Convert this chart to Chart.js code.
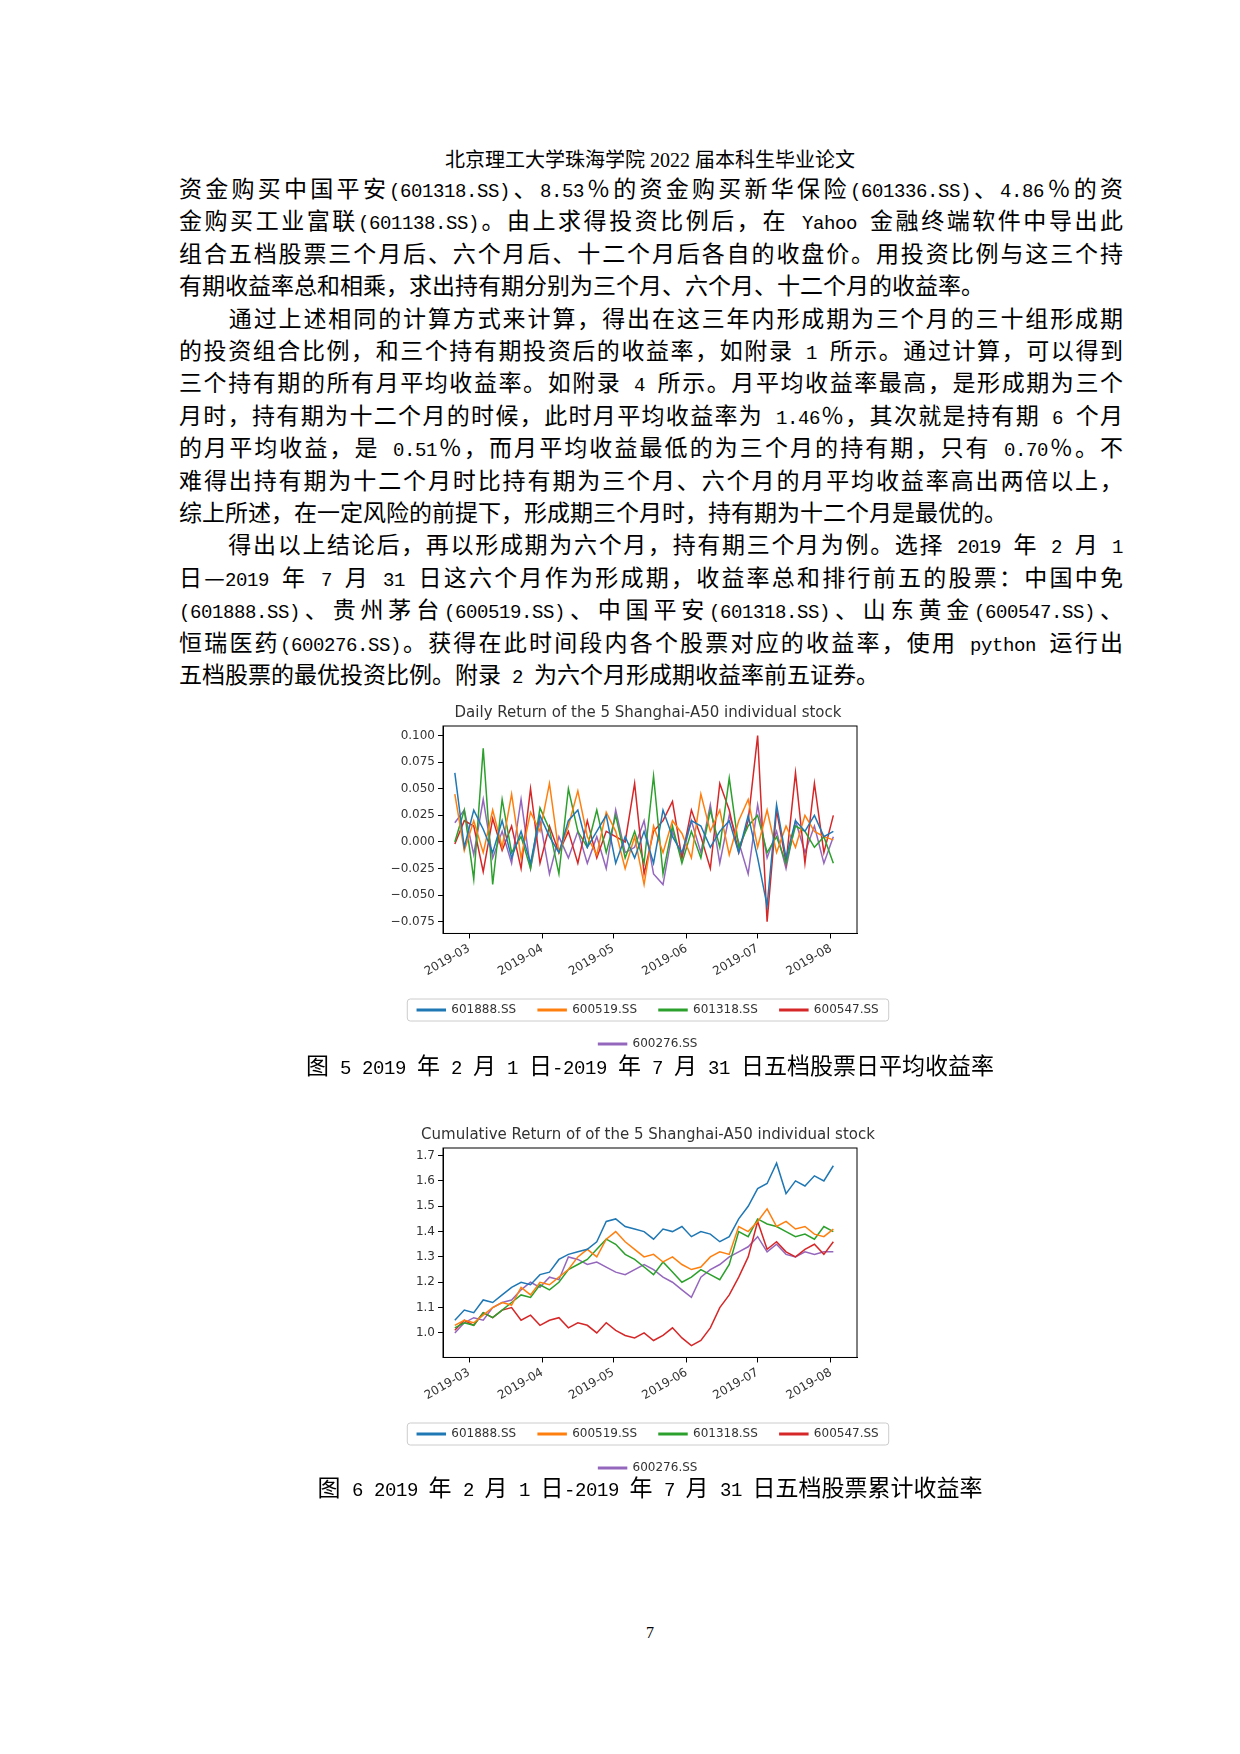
<!DOCTYPE html>
<html><head><meta charset="utf-8">
<script src="https://cdn.jsdelivr.net/npm/chart.js@4.4.0/dist/chart.umd.min.js"></script>
<style>
@font-face{font-family:"LatinMono";src:local("Liberation Mono"),local("LiberationMono");size-adjust:84%;unicode-range:U+0000-00FF}
body{margin:0;width:1240px;height:1754px;background:#fff;position:relative;font-family:"LatinMono","Noto Sans CJK SC",sans-serif;color:#000}
.ln{position:absolute;left:179px;width:944px;height:32px;line-height:32px;font-size:23px;white-space:nowrap;text-align:justify;text-align-last:justify}
.last{text-align-last:left}
.c{position:absolute;left:0;width:1300px;text-align:center;white-space:nowrap}
canvas{position:absolute}
</style></head><body>
<div class="c" style="top:147px;font-size:20px;line-height:26px;font-family:'Liberation Serif','Noto Sans CJK SC'">北京理工大学珠海学院 2022 届本科生毕业论文</div>
<div id="txt"></div>
<canvas id="c1" style="left:335px;top:702px;width:626px;height:362px"></canvas>
<div class="c" style="top:1054px;font-size:23px;line-height:30px">图 5 2019 年 2 月 1 日-2019 年 7 月 31 日五档股票日平均收益率</div>
<canvas id="c2" style="left:335px;top:1124px;width:626px;height:364px"></canvas>
<div class="c" style="top:1476px;font-size:23px;line-height:30px">图 6 2019 年 2 月 1 日-2019 年 7 月 31 日五档股票累计收益率</div>
<div class="c" style="top:1622px;font-size:16px;line-height:22px;font-family:'Liberation Serif'">7</div>
<script>
const lines=[
["资金购买中国平安(601318.SS)、8.53％的资金购买新华保险(601336.SS)、4.86％的资",0],
["金购买工业富联(601138.SS)。由上求得投资比例后，在 Yahoo 金融终端软件中导出此",0],
["组合五档股票三个月后、六个月后、十二个月后各自的收盘价。用投资比例与这三个持",0],
["有期收益率总和相乘，求出持有期分别为三个月、六个月、十二个月的收益率。",1],
["　　通过上述相同的计算方式来计算，得出在这三年内形成期为三个月的三十组形成期",0],
["的投资组合比例，和三个持有期投资后的收益率，如附录 1 所示。通过计算，可以得到",0],
["三个持有期的所有月平均收益率。如附录 4 所示。月平均收益率最高，是形成期为三个",0],
["月时，持有期为十二个月的时候，此时月平均收益率为 1.46％，其次就是持有期 6 个月",0],
["的月平均收益，是 0.51％，而月平均收益最低的为三个月的持有期，只有 0.70％。不",0],
["难得出持有期为十二个月时比持有期为三个月、六个月的月平均收益率高出两倍以上，",0],
["综上所述，在一定风险的前提下，形成期三个月时，持有期为十二个月是最优的。",1],
["　　得出以上结论后，再以形成期为六个月，持有期三个月为例。选择 2019 年 2 月 1",0],
["日—2019 年 7 月 31 日这六个月作为形成期，收益率总和排行前五的股票：中国中免",0],
["(601888.SS)、贵州茅台(600519.SS)、中国平安(601318.SS)、山东黄金(600547.SS)、",0],
["恒瑞医药(600276.SS)。获得在此时间段内各个股票对应的收益率，使用 python 运行出",0],
["五档股票的最优投资比例。附录 2 为六个月形成期收益率前五证券。",1]];
const tw=document.getElementById('txt');
lines.forEach((l,i)=>{const d=document.createElement('div');d.className='ln'+(l[1]?' last':'');d.style.top=(176+32.4*i)+'px';d.textContent=l[0];tw.appendChild(d);});

const names=["601888.SS","600519.SS","601318.SS","600547.SS","600276.SS"];
const colors=["#1f77b4","#ff7f0e","#2ca02c","#d62728","#9467bd"];
const tickDays=[28,59,89,120,150,181];
const tickLabels=["2019-03","2019-04","2019-05","2019-06","2019-07","2019-08"];
const days=[22,26,30,34,38,42,46,50,54,58,62,66,70,74,78,82,86,90,94,98,102,106,110,114,118,122,126,130,134,138,142,146,150,154,158,162,166,170,174,178,182];
const daily601888=[0.065,-0.005,0.030,0.012,-0.010,0.020,-0.015,0.010,-0.020,0.025,0.005,-0.010,0.020,0.030,-0.005,0.010,0.025,-0.020,0.005,-0.015,0.010,-0.020,0.030,0.005,-0.010,0.020,0.015,-0.005,0.010,0.020,-0.010,0.025,-0.015,-0.060,0.035,-0.015,0.020,0.010,0.025,0.005,0.010];
const daily600519=[0.045,-0.008,0.020,-0.010,0.030,-0.005,0.045,-0.015,0.028,0.010,0.055,-0.010,0.015,0.048,0.005,-0.012,0.028,0.010,-0.025,0.005,-0.040,0.015,-0.010,0.020,0.008,-0.015,0.045,0.010,0.030,-0.012,0.020,0.040,-0.005,0.030,-0.010,0.015,-0.005,0.025,0.010,0.005,0.002];
const daily601318=[0.000,0.030,-0.035,0.088,-0.040,0.040,-0.010,0.005,-0.025,0.032,0.012,-0.030,0.050,0.010,-0.005,0.030,-0.010,0.025,-0.015,0.010,-0.020,0.062,-0.030,0.015,-0.020,0.010,-0.015,0.030,-0.005,0.060,-0.005,0.015,0.025,-0.010,0.005,-0.020,0.015,0.010,-0.005,0.005,-0.020];
const daily600547=[-0.002,0.020,0.015,-0.028,0.022,-0.008,0.015,-0.025,0.050,-0.020,0.015,-0.010,0.010,-0.020,0.020,-0.015,0.010,0.005,0.000,0.055,-0.030,0.010,0.020,0.038,-0.015,0.030,0.005,-0.025,0.055,0.030,-0.010,0.020,0.100,-0.075,0.030,-0.020,0.065,-0.020,0.055,-0.010,0.025];
const daily600276=[0.018,0.030,-0.012,0.040,-0.015,0.010,-0.020,0.040,-0.025,0.020,-0.030,0.005,-0.015,0.010,-0.020,0.005,-0.025,0.030,-0.010,-0.005,0.020,-0.030,-0.040,0.010,-0.015,0.020,-0.010,0.035,-0.020,0.025,0.000,-0.030,0.035,-0.015,0.010,-0.025,0.020,-0.010,0.015,-0.020,0.005];
const cum601888=[1.05,1.09,1.08,1.13,1.12,1.15,1.18,1.20,1.19,1.23,1.24,1.29,1.31,1.32,1.33,1.36,1.44,1.45,1.42,1.41,1.40,1.37,1.41,1.40,1.42,1.38,1.40,1.39,1.36,1.38,1.45,1.50,1.57,1.59,1.67,1.55,1.60,1.58,1.62,1.60,1.66];
const cum600519=[1.03,1.05,1.04,1.07,1.10,1.12,1.11,1.18,1.15,1.20,1.19,1.22,1.25,1.30,1.33,1.30,1.37,1.40,1.36,1.33,1.30,1.31,1.28,1.30,1.27,1.25,1.26,1.30,1.32,1.31,1.42,1.40,1.44,1.49,1.42,1.44,1.41,1.42,1.39,1.38,1.41];
const cum601318=[1.02,1.04,1.03,1.08,1.06,1.09,1.12,1.15,1.14,1.19,1.17,1.20,1.25,1.27,1.29,1.33,1.37,1.35,1.31,1.29,1.26,1.23,1.28,1.24,1.20,1.22,1.25,1.23,1.21,1.27,1.40,1.38,1.45,1.43,1.42,1.40,1.38,1.39,1.37,1.42,1.40];
const cum600547=[1.01,1.05,1.03,1.08,1.06,1.09,1.10,1.05,1.07,1.03,1.05,1.06,1.02,1.04,1.03,1.00,1.04,1.01,0.99,0.98,1.00,0.97,0.99,1.02,0.98,0.95,0.97,1.02,1.10,1.15,1.22,1.30,1.44,1.33,1.36,1.32,1.30,1.33,1.35,1.31,1.36];
const cum600276=[1.00,1.04,1.06,1.05,1.10,1.12,1.13,1.17,1.20,1.18,1.22,1.21,1.30,1.29,1.27,1.28,1.26,1.24,1.23,1.25,1.27,1.25,1.22,1.20,1.17,1.14,1.22,1.25,1.27,1.30,1.32,1.34,1.38,1.32,1.35,1.31,1.30,1.32,1.31,1.32,1.32];
const dailyTicks=[-0.075,-0.050,-0.025,0.000,0.025,0.050,0.075,0.100];
const cumTicks=[1.0,1.1,1.2,1.3,1.4,1.5,1.6,1.7];

const font="'DejaVu Sans',sans-serif";
const boxPlugin={id:'box',afterDraw(ch){const c=ch.ctx,a=ch.chartArea;c.save();c.strokeStyle='#000';c.lineWidth=1;c.strokeRect(a.left,a.top,a.right-a.left,a.bottom-a.top);
 const hb=ch.legend.legendHitBoxes;if(hb&&hb.length){let l=Math.min(...hb.map(h=>h.left))-10,r=Math.max(...hb.map(h=>h.left+h.width))+10,t=hb[0].top-5,b=hb[0].top+hb[0].height+5;c.strokeStyle='#ccc';c.beginPath();c.roundRect(l,t,r-l,b-t,3);c.stroke();}c.restore();}};
function make(id,series,title,ticks,ymin,ymax,fmt){
 new Chart(document.getElementById(id),{type:'line',
  data:{datasets:series.map((s,i)=>({label:names[i],data:days.map((d,j)=>({x:d,y:s[j]})),borderColor:colors[i],backgroundColor:colors[i],borderWidth:1.5,pointRadius:0,tension:0}))},
  options:{responsive:false,animation:false,devicePixelRatio:1,
   layout:{padding:{right:0,left:0,top:0,bottom:4}},
   plugins:{title:{display:true,text:title,color:'#333',font:{family:font,size:15,weight:'normal'},padding:{top:2,bottom:4}},
    legend:{position:'bottom',labels:{boxWidth:28,boxHeight:1.5,color:'#333',font:{family:font,size:12},padding:22}},tooltip:{enabled:false}},
   scales:{x:{type:'linear',min:17,max:192,afterBuildTicks:a=>{a.ticks=tickDays.map(v=>({value:v}))},
     ticks:{callback:v=>tickLabels[tickDays.indexOf(v)],maxRotation:30,minRotation:30,color:'#333',font:{family:font,size:12}},
     grid:{drawOnChartArea:false,color:'#000',tickLength:5},border:{color:'#000'}},
    y:{min:ymin,max:ymax,afterBuildTicks:a=>{a.ticks=ticks.map(v=>({value:v}))},afterFit:a=>{a.width=108},
     ticks:{callback:fmt,color:'#333',font:{family:font,size:12}},grid:{drawOnChartArea:false,color:'#000',tickLength:5},border:{color:'#000'}},
    yR:{position:'right',min:0,max:1,afterFit:a=>{a.width=104},ticks:{display:false},grid:{display:false},border:{display:false}}}},
  plugins:[boxPlugin]});
}
document.getElementById('c1').width=626;document.getElementById('c1').height=362;
document.getElementById('c2').width=626;document.getElementById('c2').height=364;
make('c1',[daily601888,daily600519,daily601318,daily600547,daily600276],'Daily Return of the 5 Shanghai-A50 individual stock',dailyTicks,-0.086,0.109,v=>(v<0?'\u2212':'')+Math.abs(v).toFixed(3));
make('c2',[cum601888,cum600519,cum601318,cum600547,cum600276],'Cumulative Return of of the 5 Shanghai-A50 individual stock',cumTicks,0.903,1.73,v=>v.toFixed(1));
</script></body></html>
